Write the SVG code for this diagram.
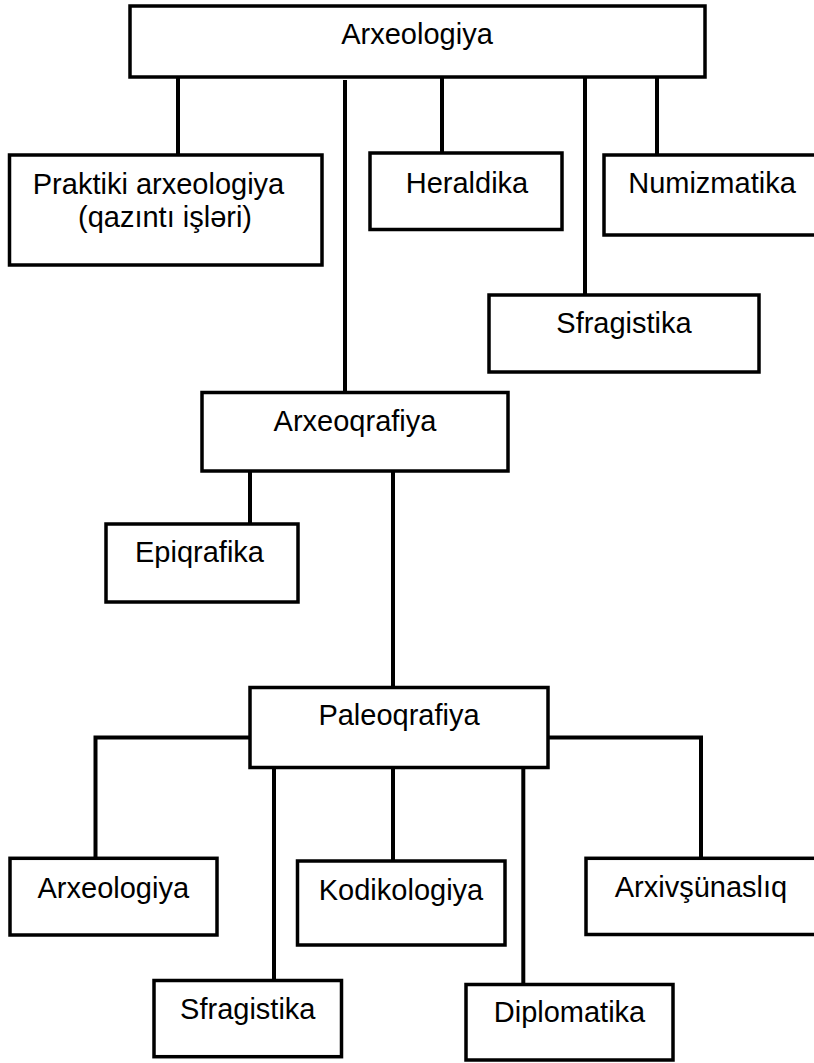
<svg xmlns="http://www.w3.org/2000/svg" width="814" height="1063" viewBox="0 0 814 1063">
<style>
.box{fill:#fff;stroke:#000;stroke-width:3.5}
.lbl{font-family:"Liberation Sans",Arial,sans-serif;font-size:29px;fill:#000;text-anchor:middle}
.con{fill:none;stroke:#000;stroke-width:4;stroke-linecap:butt;stroke-linejoin:miter}
</style>
<rect width="814" height="1063" fill="#fff"/>
<g id="connectors" class="con">
<path d="M178 77V155"/>
<path d="M345 80V392.5"/>
<path d="M442 77V153"/>
<path d="M585 77V295"/>
<path d="M657 77V155"/>
<path d="M250 471V524"/>
<path d="M393 471V687.5"/>
<path d="M250 737.5H95.5V858.3"/>
<path d="M548 737.5H701V858.3"/>
<path d="M274 767.5V980.5"/>
<path d="M393 767.5V861"/>
<path d="M523.3 767.5V984.5"/>
</g>
<g id="n-arxeologiya-top"><rect class="box" x="130" y="6" width="575" height="71"/><text class="lbl" x="417" y="43.5">Arxeologiya</text></g>
<g id="n-praktiki"><rect class="box" x="9.5" y="155" width="312.5" height="110"/><text class="lbl" x="158.5" y="194">Praktiki arxeologiya</text><text class="lbl" x="165" y="227">(qazıntı işləri)</text></g>
<g id="n-heraldika"><rect class="box" x="370" y="153" width="192" height="76.5"/><text class="lbl" x="467" y="193">Heraldika</text></g>
<g id="n-numizmatika"><rect class="box" x="604" y="155" width="214" height="80"/><text class="lbl" x="712" y="193">Numizmatika</text></g>
<g id="n-sfragistika-top"><rect class="box" x="489" y="295" width="270" height="77"/><text class="lbl" x="624" y="333">Sfragistika</text></g>
<g id="n-arxeoqrafiya"><rect class="box" x="202" y="392.5" width="306" height="78.5"/><text class="lbl" x="355" y="431">Arxeoqrafiya</text></g>
<g id="n-epiqrafika"><rect class="box" x="106" y="524" width="192" height="78"/><text class="lbl" x="199.5" y="561.7">Epiqrafika</text></g>
<g id="n-paleoqrafiya"><rect class="box" x="250" y="687.5" width="298" height="80"/><text class="lbl" x="399" y="725">Paleoqrafiya</text></g>
<g id="n-arxeologiya-bottom"><rect class="box" x="10" y="858.3" width="207" height="76.7"/><text class="lbl" x="113.3" y="897.5">Arxeologiya</text></g>
<g id="n-kodikologiya"><rect class="box" x="297.5" y="861" width="207.5" height="84"/><text class="lbl" x="401" y="900">Kodikologiya</text></g>
<g id="n-arxivsunasliq"><rect class="box" x="586" y="858.3" width="230" height="76.2"/><text class="lbl" x="701" y="896.7">Arxivşünaslıq</text></g>
<g id="n-sfragistika-bottom"><rect class="box" x="154" y="980.5" width="187.5" height="76.2"/><text class="lbl" x="247.8" y="1019">Sfragistika</text></g>
<g id="n-diplomatika"><rect class="box" x="466" y="984.5" width="207" height="75.5"/><text class="lbl" x="569.5" y="1021.7">Diplomatika</text></g>
</svg>
